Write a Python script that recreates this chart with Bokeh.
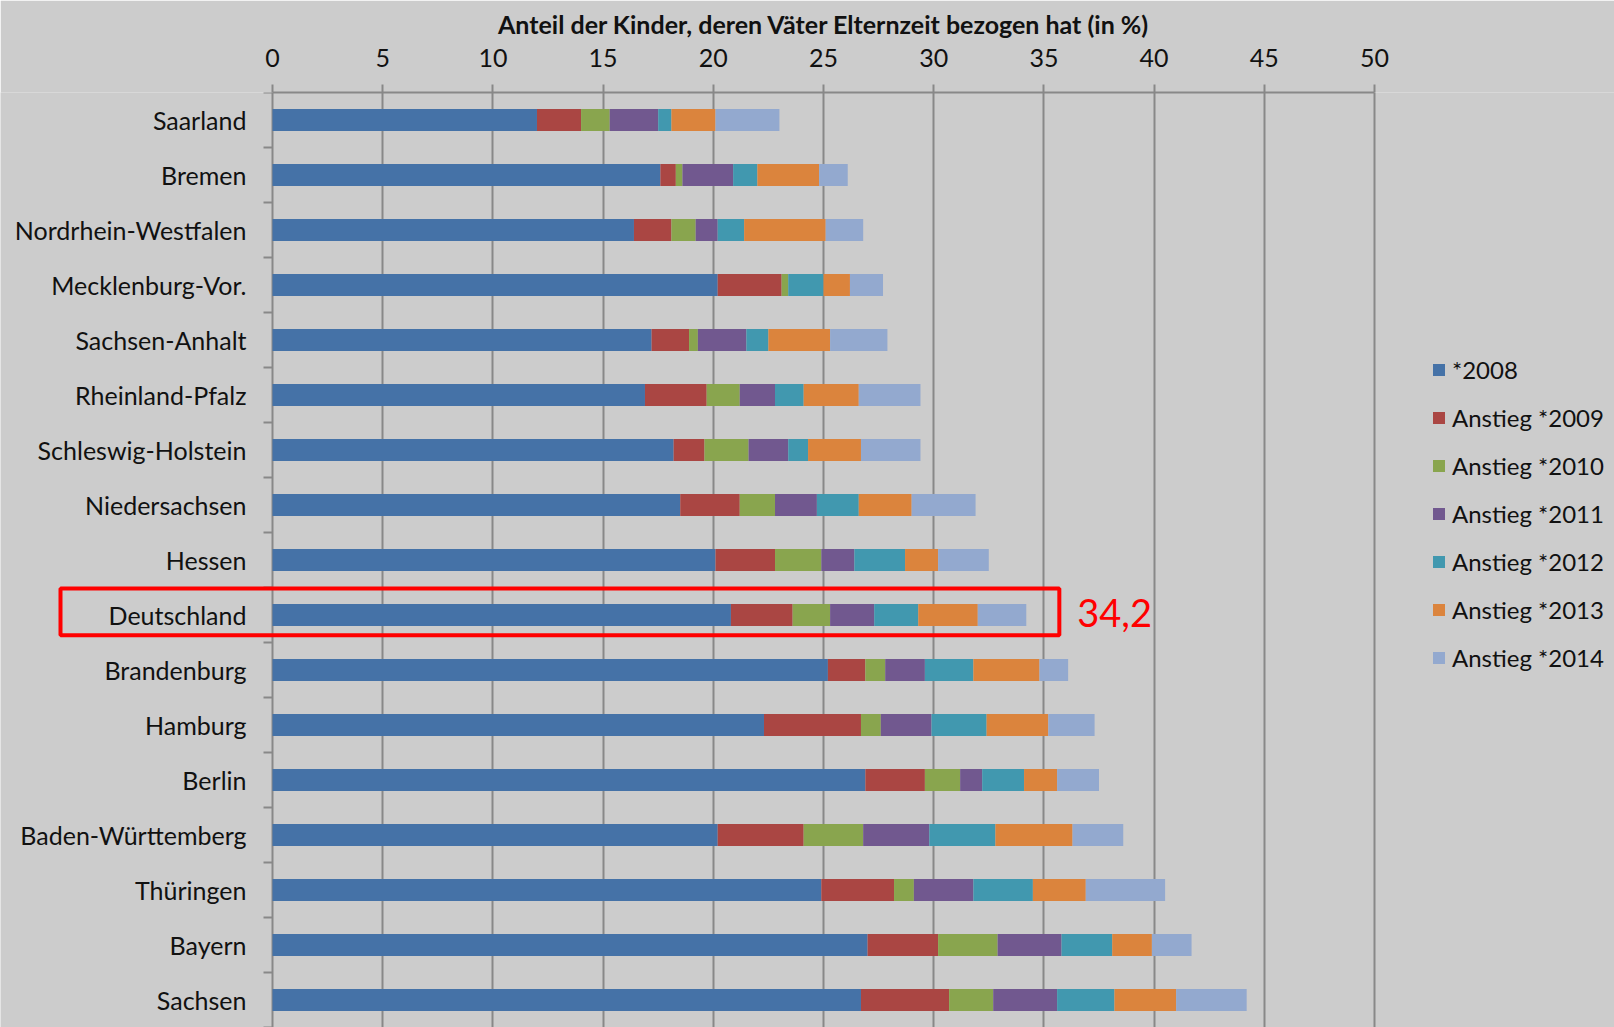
from bokeh.plotting import figure
from bokeh.models import (Range1d, FixedTicker, Legend, LegendItem, BoxAnnotation,
                          Label, Title, ColumnDataSource)
from bokeh.core.properties import value
from bokeh.embed import file_html
from bokeh.resources import INLINE

# Bundesländer, top to bottom
regions = ["Saarland", "Bremen", "Nordrhein-Westfalen", "Mecklenburg-Vor.",
           "Sachsen-Anhalt", "Rheinland-Pfalz", "Schleswig-Holstein",
           "Niedersachsen", "Hessen", "Deutschland", "Brandenburg", "Hamburg",
           "Berlin", "Baden-Württemberg", "Thüringen", "Bayern", "Sachsen"]

# share of children whose fathers took parental leave (%), birth cohort 2008
base_2008 = [12.0, 17.6, 16.4, 20.2, 17.2, 16.9, 18.2, 18.5, 20.1, 20.8,
             25.2, 22.3, 26.9, 20.2, 24.9, 27.0, 26.7]
# increase over the previous cohort
rise_2009 = [2.0, 0.7, 1.7, 2.9, 1.7, 2.8, 1.4, 2.7, 2.7, 2.8,
             1.7, 4.4, 2.7, 3.9, 3.3, 3.2, 4.0]
rise_2010 = [1.3, 0.3, 1.1, 0.3, 0.4, 1.5, 2.0, 1.6, 2.1, 1.7,
             0.9, 0.9, 1.6, 2.7, 0.9, 2.7, 2.0]
rise_2011 = [2.2, 2.3, 1.0, 0.0, 2.2, 1.6, 1.8, 1.9, 1.5, 2.0,
             1.8, 2.3, 1.0, 3.0, 2.7, 2.9, 2.9]
rise_2012 = [0.6, 1.1, 1.2, 1.6, 1.0, 1.3, 0.9, 1.9, 2.3, 2.0,
             2.2, 2.5, 1.9, 3.0, 2.7, 2.3, 2.6]
rise_2013 = [2.0, 2.8, 3.7, 1.2, 2.8, 2.5, 2.4, 2.4, 1.5, 2.7,
             3.0, 2.8, 1.5, 3.5, 2.4, 1.8, 2.8]
rise_2014 = [2.9, 1.3, 1.7, 1.5, 2.6, 2.8, 2.7, 2.9, 2.3, 2.2,
             1.3, 2.1, 1.9, 2.3, 3.6, 1.8, 3.2]

series_labels = ["*2008", "Anstieg *2009", "Anstieg *2010", "Anstieg *2011",
                 "Anstieg *2012", "Anstieg *2013", "Anstieg *2014"]
series_colors = ["#4572A7", "#AA4643", "#89A54E", "#71588F",
                 "#4198AF", "#DB843D", "#93A9CF"]

x_ticks = [0, 5, 10, 15, 20, 25, 30, 35, 40, 45, 50]
x_title = "Anteil der Kinder, deren Väter Elternzeit bezogen hat (in %)"
highlight = "Deutschland"

FONT = "Lato"
BG = "#cccccc"
GRID = "#888888"
TEXT = "#111111"

W, H = 1614, 1027
AXIS_LEFT = 272          # screen x of the value 0
PX = 1102 / 50           # pixels per percentage point
TOP = 92                 # height of the panel above the plotting area
TITLE_W = 651            # rendered width of the axis title

keys = ["s2008", "s2009", "s2010", "s2011", "s2012", "s2013", "s2014"]
positions = list(range(len(regions)))
source = ColumnDataSource(dict(
    pos=positions, name=regions,
    s2008=base_2008, s2009=rise_2009, s2010=rise_2010, s2011=rise_2011,
    s2012=rise_2012, s2013=rise_2013, s2014=rise_2014,
))

# the plotting area spans the full width so that the row labels, the
# highlight frame and the legend can live inside it
p = figure(width=W, height=H,
           x_range=Range1d(-AXIS_LEFT / PX, (W - AXIS_LEFT) / PX),
           y_range=Range1d(len(regions) - 0.5, -0.5),
           x_axis_location="above", y_axis_location=None,
           output_backend="svg", toolbar_location=None,
           min_border_left=0, min_border_right=0,
           min_border_top=TOP, min_border_bottom=0,
           background_fill_color=BG, border_fill_color=BG,
           outline_line_color=None)

bars = p.hbar_stack(keys, y="pos", height=0.4, color=series_colors,
                    line_color=None, source=source)

# value axis on top
xt = FixedTicker(ticks=x_ticks, minor_ticks=[])
xa = p.xaxis[0]
xa.ticker = xt
xa.bounds = (x_ticks[0], x_ticks[-1])
xa.major_label_text_font = FONT
xa.major_label_text_font_size = "25px"
xa.major_label_text_color = TEXT
xa.major_label_standoff = 18
xa.major_tick_out = 8
xa.major_tick_in = 0
xa.minor_tick_out = 0
xa.minor_tick_in = 0
xa.axis_line_color = GRID
xa.axis_line_width = 2
xa.major_tick_line_color = GRID
xa.major_tick_line_width = 2

# axis title, centred over the 0-50 scale
scale_mid = AXIS_LEFT + PX * (x_ticks[0] + x_ticks[-1]) / 2
p.add_layout(Title(text=x_title, align="left", offset=scale_mid - TITLE_W / 2,
                   text_font=FONT, text_font_style="bold",
                   text_font_size="25px", text_color=TEXT, standoff=12.5),
             "above")

p.xgrid.ticker = xt
p.xgrid.grid_line_color = GRID
p.xgrid.grid_line_width = 2
p.ygrid.visible = False

# category axis: names at the bar centres, tick marks between categories
tick_len = 9 / PX
bounds = [i - 0.5 for i in range(len(regions) + 1)]
p.segment(x0=-tick_len, x1=0, y0=bounds, y1=bounds,
          line_color=GRID, line_width=2)
p.text(x=0, y="pos", text="name", source=source, x_offset=-26,
       text_align="right", text_baseline="middle",
       text_font=value(FONT), text_font_size=value("25px"), text_color=TEXT)

# highlight for the national average
hi = regions.index(highlight)
total = round(sum(s[hi] for s in [base_2008, rise_2009, rise_2010, rise_2011,
                                  rise_2012, rise_2013, rise_2014]), 1)
p.add_layout(BoxAnnotation(left=(60 - AXIS_LEFT) / PX, right=total + 1.5,
                           top=hi - 0.48, bottom=hi + 0.37,
                           fill_color=None, fill_alpha=0,
                           line_color="#ff0000", line_alpha=1.0, line_width=4))
p.add_layout(Label(x=total, y=hi, x_offset=51, y_offset=2,
                   text=f"{total:.1f}".replace(".", ","),
                   text_font=FONT, text_font_size="38px", text_color="#ff0000",
                   text_align="left", text_baseline="middle"))

legend = Legend(items=[LegendItem(label=lab, renderers=[r])
                       for lab, r in zip(series_labels, bars)],
                location=(1431, 355), orientation="vertical",
                glyph_width=15, glyph_height=15, label_height=30, spacing=18,
                padding=0, margin=0, label_standoff=6,
                border_line_color=None, background_fill_alpha=0,
                label_text_font=FONT, label_text_font_size="24px",
                label_text_color=TEXT)
p.add_layout(legend, "center")

open("out.html", "w").write(file_html(p, INLINE))
